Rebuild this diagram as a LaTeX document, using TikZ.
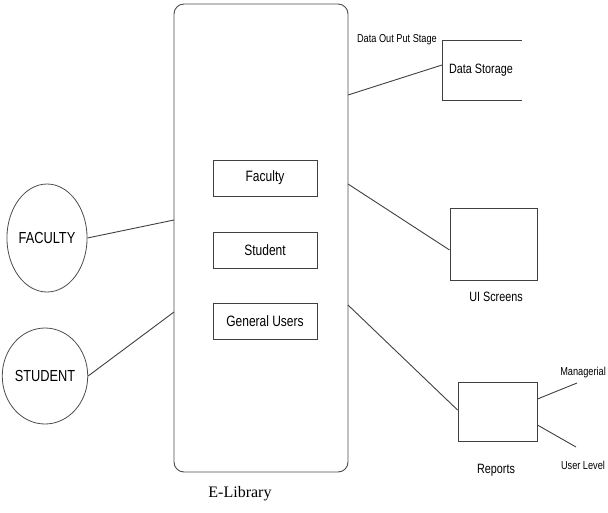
\documentclass[tikz,border=0pt]{standalone}
\usepackage{fontspec}
\setmainfont{Liberation Sans}
\newfontfamily\narrowsans{Liberation Sans}[FakeStretch=0.8]
\newfontfamily\titleserif{Liberation Serif}
\usetikzlibrary{shapes.geometric}
\begin{document}
\begin{tikzpicture}[x=1pt,y=-1pt,
  wire/.style={draw=black!75,line width=0.9pt},
  actor/.style={ellipse,draw=black!70,line width=0.8pt,inner sep=0pt,
    minimum width=74pt,minimum height=108pt,font=\narrowsans\fontsize{16}{18}\selectfont},
  userbox/.style={rectangle,draw=black!75,line width=0.9pt,inner sep=0pt,
    minimum width=104pt,minimum height=36pt,font=\narrowsans\fontsize{15}{18}\selectfont},
  plainbox/.style={rectangle,draw=black!75,line width=0.9pt,inner sep=0pt},
  lbl/.style={inner sep=0pt,font=\narrowsans\fontsize{13.5}{16}\selectfont},
  smalllbl/.style={inner sep=0pt,font=\narrowsans\fontsize{11.5}{14}\selectfont}]
\useasboundingbox (0,0) rectangle (608,512);

% main system boundary
\node[draw=black!70,line width=0.9pt,rounded corners=10pt,minimum width=174pt,
  minimum height=468pt,inner sep=0pt] (lib) at (261,238) {};
\node[inner sep=0pt,font=\titleserif\fontsize{16}{19}\selectfont] (libname) at (240,494) {E-Library};

% user categories inside the library
\node[userbox] (ufac) at (265,178) {Faculty};
\node[userbox] (ustu) at (265,250) {Student};
\node[userbox] (ugen) at (265,321) {General Users};

% external actors
\node[actor] (fac) at (47,238) {FACULTY};
\node[actor,minimum width=70pt,minimum height=96pt] (stu) at (45,376) {STUDENT};
\coordinate (lf) at (174,220);
\coordinate (ls) at (174,312);
\draw[wire] (fac.east) -- (lf);
\draw[wire] (stu.east) -- (ls);

% data storage (open-ended store)
\coordinate (dsA) at (522,40);
\coordinate (dsB) at (442,40);
\coordinate (dsC) at (442,100);
\coordinate (dsD) at (522,100);
\draw[wire] (dsA) -- (dsB) -- (dsC) -- (dsD);
\node[lbl] (ds) at (481,70) {Data Storage};
\node[smalllbl,anchor=east] (dsstage) at (437,40) {Data Out Put Stage};
\coordinate (ldsout) at (348,95);
\coordinate (dsin) at (442,65);
\draw[wire] (ldsout) -- (dsin);

% UI screens
\node[plainbox,minimum width=87pt,minimum height=72pt] (ui) at (493.5,244) {};
\node[lbl] (uiname) at (496,297) {UI Screens};
\coordinate (lui) at (348,184);
\draw[wire] (lui) -- (ui.west |- 0,250);

% reports and their two kinds
\node[plainbox,minimum width=79pt,minimum height=59pt] (rep) at (497.5,411.5) {};
\node[lbl] (repname) at (496,470) {Reports};
\coordinate (lrep) at (348,305);
\draw[wire] (lrep) -- (rep.west |- 0,410);
\node[smalllbl,anchor=east] (mgr) at (606,373) {Managerial};
\node[smalllbl] (usr) at (583,465) {User Level};
\coordinate (mgrend) at (577,383);
\coordinate (usrend) at (576,447);
\draw[wire] (rep.east |- 0,399) -- (mgrend);
\draw[wire] (rep.east |- 0,425) -- (usrend);
\end{tikzpicture}
\end{document}
